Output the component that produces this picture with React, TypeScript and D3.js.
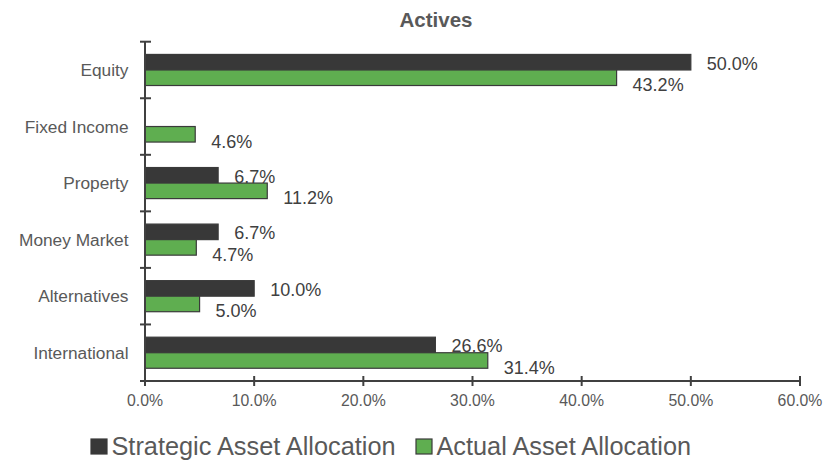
import React, { useEffect, useRef } from 'react';
import * as d3 from 'd3';

const categories = ['Equity', 'Fixed Income', 'Property', 'Money Market', 'Alternatives', 'International'];
const seriesNames = ['Strategic Asset Allocation', 'Actual Asset Allocation'];
const strategic = [50.0, 0, 6.7, 6.7, 10.0, 26.6];
const actual = [43.2, 4.6, 11.2, 4.7, 5.0, 31.4];
const xTicks = [0, 10, 20, 30, 40, 50, 60];

const width = 830;
const height = 460;
const font = '"Liberation Sans", Arial, sans-serif';
const fills = ['#383838', '#5fae50'];

const App = () => {
  const chartRef = useRef<SVGSVGElement>(null);

  useEffect(() => {
    renderChart();
  }, []);

  const renderChart = () => {
    const svg = d3.select(chartRef.current);
    svg.selectAll('*').remove();

    const left = 145;
    const right = 800;
    const top = 41.7;
    const bottom = 381;

    const x = d3.scaleLinear().domain([0, 60]).range([left, right]);
    const y = d3.scaleBand<string>().domain(categories).range([top, bottom]);
    const sub = d3.scaleBand<string>().domain(seriesNames).range([0, y.bandwidth()]).paddingOuter(0.82);

    const rows = categories.map((c, i) => ({ cat: c, values: [strategic[i], actual[i]] }));

    // title
    svg.append('text')
      .attr('x', 436)
      .attr('y', 27)
      .attr('text-anchor', 'middle')
      .style('font-family', font)
      .style('font-size', '20.5px')
      .style('font-weight', 'bold')
      .style('fill', '#595959')
      .text('Actives');

    // bars
    const groups = svg.selectAll('.row')
      .data(rows)
      .enter()
      .append('g')
      .attr('transform', d => `translate(0,${y(d.cat)})`);

    groups.selectAll('rect')
      .data(d => d.values.map((v, k) => ({ v, k })))
      .enter()
      .filter(d => d.v > 0)
      .append('rect')
      .attr('x', x(0))
      .attr('y', d => sub(seriesNames[d.k])!)
      .attr('width', d => x(d.v) - x(0))
      .attr('height', sub.bandwidth())
      .attr('fill', d => fills[d.k])
      .attr('stroke', '#3a3a3a')
      .attr('stroke-width', 1.2);

    groups.selectAll('.lbl')
      .data(d => d.values.map((v, k) => ({ v, k })))
      .enter()
      .filter(d => d.v > 0)
      .append('text')
      .attr('x', d => x(d.v) + 16)
      .attr('y', d => sub(seriesNames[d.k])! + sub.bandwidth() / 2 + (d.k === 0 ? 1 : 7))
      .attr('dy', '0.36em')
      .style('font-family', font)
      .style('font-size', '18px')
      .style('fill', '#404040')
      .text(d => d.v.toFixed(1) + '%');

    // y axis
    const axisColor = '#404040';
    svg.append('line')
      .attr('x1', left).attr('x2', left)
      .attr('y1', top).attr('y2', bottom)
      .attr('stroke', axisColor).attr('stroke-width', 2);

    const bounds = categories.map(c => y(c)!).concat([bottom]);
    svg.selectAll('.ytick')
      .data(bounds)
      .enter()
      .append('line')
      .attr('x1', left - 5).attr('x2', left + 6)
      .attr('y1', d => d).attr('y2', d => d)
      .attr('stroke', axisColor).attr('stroke-width', 2);

    svg.selectAll('.ylab')
      .data(categories)
      .enter()
      .append('text')
      .attr('x', 128.5)
      .attr('y', d => y(d)! + y.bandwidth() / 2)
      .attr('dy', '0.36em')
      .attr('text-anchor', 'end')
      .style('font-family', font)
      .style('font-size', '17.3px')
      .style('fill', '#595959')
      .text(d => d);

    // x axis
    svg.append('line')
      .attr('x1', left).attr('x2', right)
      .attr('y1', bottom).attr('y2', bottom)
      .attr('stroke', axisColor).attr('stroke-width', 2);

    svg.selectAll('.xtick')
      .data(xTicks)
      .enter()
      .append('line')
      .attr('x1', d => x(d)).attr('x2', d => x(d))
      .attr('y1', bottom - 5).attr('y2', bottom + 5)
      .attr('stroke', axisColor).attr('stroke-width', 2);

    svg.selectAll('.xlab')
      .data(xTicks)
      .enter()
      .append('text')
      .attr('x', d => x(d))
      .attr('y', 406)
      .attr('text-anchor', 'middle')
      .style('font-family', font)
      .style('font-size', '15.8px')
      .style('fill', '#595959')
      .text(d => d.toFixed(1) + '%');

    // legend
    const legendX = [91, 416];
    const legend = svg.selectAll('.legend')
      .data(seriesNames)
      .enter()
      .append('g')
      .attr('transform', (d, i) => `translate(${legendX[i]},439)`);

    legend.append('rect')
      .attr('width', 16)
      .attr('height', 15)
      .attr('fill', (d, i) => fills[i])
      .attr('stroke', '#3a3a3a')
      .attr('stroke-width', 1.2);

    legend.append('text')
      .attr('x', 20.5)
      .attr('y', 15.8)
      .style('font-family', font)
      .style('font-size', '25.3px')
      .style('fill', '#595959')
      .text(d => d);
  };

  return (
    <svg ref={chartRef} width={width} height={height} style={{ position: 'absolute', left: 0, top: 0, background: '#fff' }}></svg>
  );
};

export default App;
